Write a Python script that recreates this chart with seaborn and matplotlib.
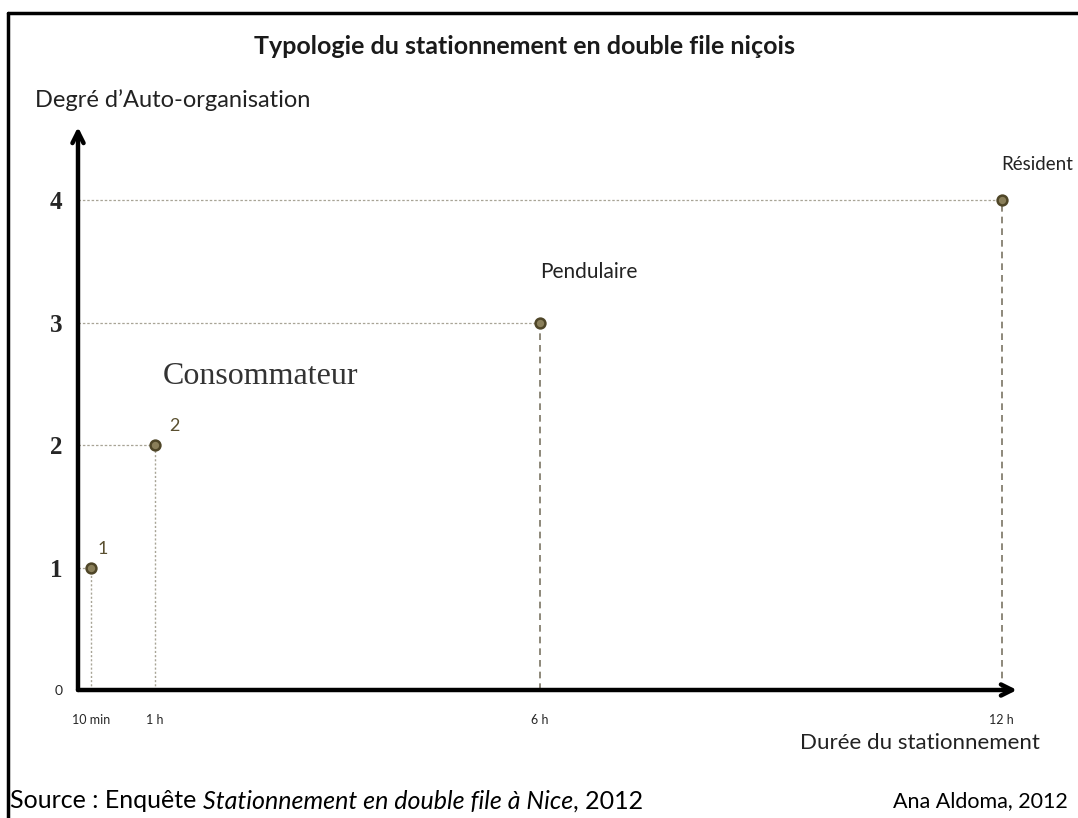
import seaborn as sns
import matplotlib.pyplot as plt
import pandas as pd
from matplotlib.lines import Line2D

# Data: parking duration (hours) vs degree of self-organisation
duree_h = [1 / 6, 1, 6, 12]
degre = [1, 2, 3, 4]
xtick_labels = ["10 min", "1 h", "6 h", "12 h"]
point_labels = ["1", "2", "Pendulaire", "Résident"]

df = pd.DataFrame({"duree": duree_h, "degre": degre})

sns.set_style("white")
plt.rcParams["font.family"] = ["Lato", "DejaVu Sans"]

fig = plt.figure(figsize=(10.78, 8.18), dpi=100)
ax = fig.add_axes([78 / 1078, 128 / 818, 939 / 1078, 563 / 818])
ax.set_xlim(0, 12.2)
ax.set_ylim(0, 4.6)
for s in ax.spines.values():
    s.set_visible(False)

# guide lines from the points to the axes
light = "#a8a496"
dark = "#7a7464"
for x, y in zip(df["duree"], df["degre"]):
    vcol, vls, vlw = (dark, (0, (4, 3)), 1.2) if x >= 6 else (light, (0, (1.5, 1.5)), 1.0)
    ax.plot([x, x], [0, y], color=vcol, ls=vls, lw=vlw, zorder=1)
    ax.plot([0, x], [y, y], color=light, ls=(0, (2, 1.5)), lw=0.9, zorder=1)

sns.scatterplot(data=df, x="duree", y="degre", ax=ax, s=50, color="#8a7f5a",
                edgecolor="#4f4628", linewidth=1.8, zorder=3, legend=False)

# axis arrows
ax.annotate("", xy=(1.0, 0), xycoords=("axes fraction", "data"), xytext=(0, 0),
            arrowprops=dict(arrowstyle="->,head_length=0.8,head_width=0.4", lw=3.2,
                            color="black", shrinkA=0, shrinkB=0), zorder=4)
ax.annotate("", xy=(0, 1.0), xycoords=("data", "axes fraction"), xytext=(0, 0),
            arrowprops=dict(arrowstyle="->,head_length=0.8,head_width=0.4", lw=3.2,
                            color="black", shrinkA=0, shrinkB=0), zorder=4)

# ticks
ax.set_xticks(duree_h)
ax.set_xticklabels(xtick_labels, fontsize=9)
ax.tick_params(axis="x", direction="inout", length=22, width=1.8, color="#222222", pad=6)
ax.set_yticks([0] + degre)
ax.set_yticklabels(["0"] + [str(d) for d in degre])
ax.tick_params(axis="y", direction="out", length=5, width=1, color="#333333", pad=6)
for i, lab in enumerate(ax.get_yticklabels()):
    if i == 0:
        lab.set_fontsize(10)
        lab.set_family(["Lato", "DejaVu Sans"])
    else:
        lab.set_fontsize(18)
        lab.set_fontweight("bold")
        lab.set_family(["Liberation Serif", "DejaVu Serif"])
ax.yaxis.get_major_ticks()[0].tick1line.set_visible(False)
ax.set_xlabel("")
ax.set_ylabel("")

# point labels
olive = "#5a5030"
ax.annotate(point_labels[0], (duree_h[0], degre[0]), xytext=(5, 10), textcoords="offset points",
            fontsize=13, color=olive)
ax.annotate(point_labels[1], (duree_h[1], degre[1]), xytext=(10, 10), textcoords="offset points",
            fontsize=13, color=olive)
ax.annotate(point_labels[2], (duree_h[2], degre[2]), xytext=(0, 32), textcoords="offset points",
            fontsize=15, color="#222222")
ax.annotate(point_labels[3], (duree_h[3], degre[3]), xytext=(0, 22), textcoords="offset points",
            fontsize=13.5, color="#222222")
ax.text(1.1, 2.5, "Consommateur", fontsize=23, color="#333333",
        family=["Liberation Serif", "DejaVu Serif"])

# figure texts
fig.text(525 / 1078, 1 - 47 / 818, "Typologie du stationnement en double file niçois",
         ha="center", va="center", fontsize=18, fontweight="bold", color="#1a1a1a")
fig.text(35 / 1078, 1 - 100 / 818, "Degré d’Auto-organisation", ha="left", va="center",
         fontsize=17, color="#222222")
fig.text(1040 / 1078, 1 - 743 / 818, "Durée du stationnement", ha="right", va="center",
         fontsize=16, color="#222222")
src = fig.text(10 / 1078, 1 - 801 / 818, "Source : Enquête ", ha="left", va="center",
               fontsize=18, color="black")
fig.canvas.draw()
bb = src.get_window_extent()
it = fig.text(bb.x1 / 1078, 1 - 801 / 818, "Stationnement en double file à Nice", ha="left",
              va="center", fontsize=18, style="italic", color="black")
fig.canvas.draw()
bb2 = it.get_window_extent()
fig.text(bb2.x1 / 1078, 1 - 801 / 818, ", 2012", ha="left", va="center", fontsize=18, color="black")
fig.text(1068 / 1078, 1 - 801 / 818, "Ana Aldoma, 2012", ha="right", va="center",
         fontsize=15.5, color="black")

# frame (top and left edges visible)
fig.add_artist(Line2D([8 / 1078, 1.0], [1 - 13 / 818] * 2, color="black", lw=2.5,
                      transform=fig.transFigure))
fig.add_artist(Line2D([8 / 1078] * 2, [0, 1 - 13 / 818], color="black", lw=2.5,
                      transform=fig.transFigure))

fig.savefig("out.png", dpi=100)
